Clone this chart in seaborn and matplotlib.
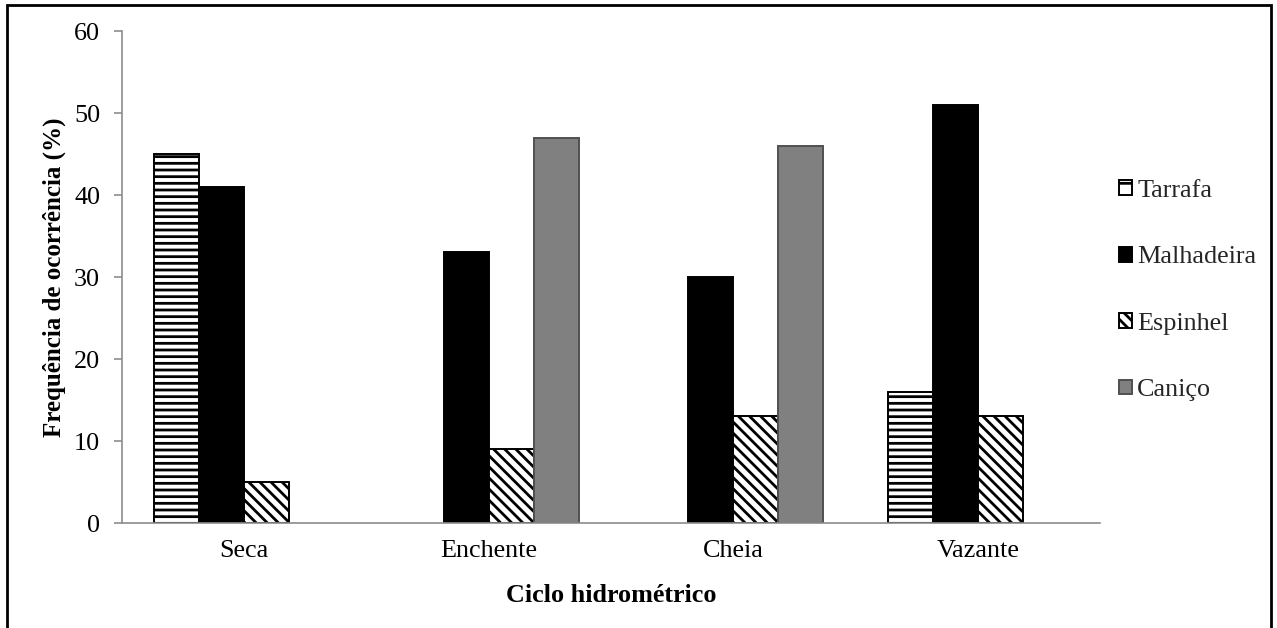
import matplotlib
matplotlib.use("Agg")
import matplotlib.pyplot as plt
from matplotlib.patches import Patch, Rectangle
import pandas as pd
import seaborn as sns

# Hydrological cycle phases and fishing gear occurrence (%)
phases = ["Seca", "Enchente", "Cheia", "Vazante"]
gears = ["Tarrafa", "Malhadeira", "Espinhel", "Caniço"]
tarrafa = [45, 0, 0, 16]
malhadeira = [41, 33, 30, 51]
espinhel = [5, 9, 13, 13]
canico = [0, 47, 46, 0]
y_ticks = [0, 10, 20, 30, 40, 50, 60]

values = {"Tarrafa": tarrafa, "Malhadeira": malhadeira,
          "Espinhel": espinhel, "Caniço": canico}
df = pd.DataFrame(
    [(p, g, values[g][i]) for g in gears for i, p in enumerate(phases)],
    columns=["fase", "arte", "freq"],
)

sns.set_theme(style="white")
plt.rcParams["font.family"] = ["Liberation Serif", "DejaVu Serif"]
plt.rcParams["hatch.linewidth"] = 1.0

DPI = 200
fig = plt.figure(figsize=(1277 / DPI, 628 / DPI), dpi=DPI)
ax = fig.add_axes([122 / 1277, 1 - 523 / 628, (1100 - 122) / 1277, (523 - 31) / 628])

BSL = chr(92)
fills = {"Tarrafa": "white", "Malhadeira": "black",
         "Espinhel": "white", "Caniço": "#808080"}
edges = {"Tarrafa": "black", "Malhadeira": "black",
         "Espinhel": "black", "Caniço": "#505050"}
hatches = {"Tarrafa": "-" * 5, "Malhadeira": "",
           "Espinhel": BSL * 6, "Caniço": ""}

sns.barplot(data=df, x="fase", y="freq", hue="arte", order=phases,
            hue_order=gears, palette=fills, width=0.735, gap=0,
            saturation=1, legend=False, ax=ax)

for gear, cont in zip(gears, ax.containers):
    for bar in cont:
        bar.set_edgecolor(edges[gear])
        bar.set_linewidth(0.7)
        bar.set_hatch(hatches[gear])
        if bar.get_height() == 0:
            bar.set_visible(False)

ax.set_ylim(0, 60)
ax.set_yticks(y_ticks)
ax.set_xlim(-0.5, len(phases) - 0.5)
for side in ("top", "right"):
    ax.spines[side].set_visible(False)
for side in ("left", "bottom"):
    ax.spines[side].set_color("#8c8c8c")
    ax.spines[side].set_linewidth(0.6)
ax.tick_params(axis="y", left=True, length=2.9, width=0.6, color="#8c8c8c",
               labelsize=9.4, pad=5, labelcolor="black")
ax.tick_params(axis="x", bottom=False, length=0, labelsize=9.4, pad=6,
               labelcolor="black")

ax.set_xlabel("Ciclo hidrométrico", fontsize=9.4, fontweight="bold",
              color="black", labelpad=8)
ax.set_ylabel("Frequência de ocorrência (%)", fontsize=9.0, fontweight="bold",
              color="black", labelpad=3)

handles = [Patch(facecolor=fills[g], edgecolor=edges[g],
                 hatch=("-" if g == "Tarrafa" else hatches[g]),
                 linewidth=0.7) for g in gears]
fig.legend(handles, gears, loc="upper left",
           bbox_to_anchor=(1106 / 1277, 1 - 167 / 628), frameon=False,
           fontsize=9.4, handlelength=0.5, handleheight=0.5,
           handletextpad=0.2, labelspacing=1.7, borderpad=0)

# Outer frame around the figure
fig.patches.append(Rectangle((7 / 1277, -0.05), (1271 - 7) / 1277,
                             1.05 - 5 / 628,
                             transform=fig.transFigure, fill=False,
                             edgecolor="black", linewidth=1.0))

fig.savefig("out.png", dpi=DPI)
